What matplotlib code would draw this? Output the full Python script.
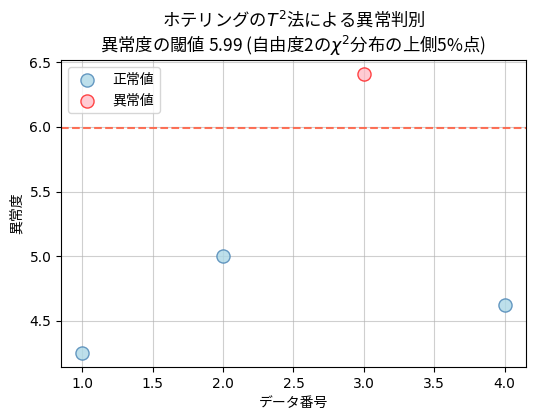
import matplotlib
matplotlib.use("Agg")
import matplotlib.pyplot as plt
import numpy as np

plt.rcParams['font.family'] = ['DejaVu Sans', 'Noto Sans CJK JP']

# data
data_no = [1, 2, 3, 4]
scores = [4.25, 5.0, 6.41, 4.625]
threshold = 5.99

data_no = np.array(data_no)
scores = np.array(scores)
is_anomaly = scores > threshold

fig = plt.figure(figsize=(5.36, 4.2), dpi=100)
ax = fig.add_axes([0.114, 0.126, 0.867, 0.731])

ax.scatter(data_no[~is_anomaly], scores[~is_anomaly], s=90, c='lightblue',
           edgecolors='steelblue', alpha=0.8, label='正常値', zorder=3)
ax.scatter(data_no[is_anomaly], scores[is_anomaly], s=90, c='lightpink',
           edgecolors='red', alpha=0.7, label='異常値', zorder=3)
ax.axhline(threshold, color='tomato', linestyle='--', alpha=0.9)

# mathtext does not fall back, so the title gets the CJK font alone
ax.set_title('ホテリングの$T^2$法による異常判別\n'
             '異常度の閾値 %.2f (自由度2の$\\chi^2$分布の上側5%%点)' % threshold,
             fontsize=12.5, family='Noto Sans CJK JP')
ax.set_xlabel('データ番号')
ax.set_ylabel('異常度')
ax.grid(True, alpha=0.6)
ax.legend(loc='upper left')

fig.savefig('out.png', dpi=100)
